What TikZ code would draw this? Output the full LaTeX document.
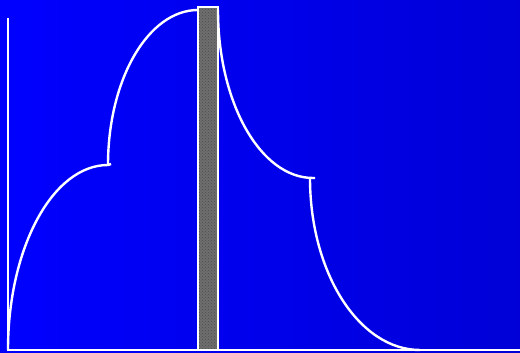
\documentclass[tikz,border=0pt]{standalone}
\usetikzlibrary{patterns}
\definecolor{bgleft}{RGB}{0,0,255}
\definecolor{bgright}{RGB}{0,0,215}
\definecolor{bargray}{RGB}{110,110,110}
\begin{document}
\begin{tikzpicture}[
  x=1pt, y=1pt,
  axis/.style={draw=white, line width=2.4pt},
  curve/.style={draw=white, line width=2.4pt},
  barrier/.style={draw=white, line width=2pt, fill=bargray}
]
\useasboundingbox (0,0) rectangle (520,353);
\shade[left color=bgleft, right color=bgright] (0,0) rectangle (520,353);
% axes
\coordinate (O) at (8,3);
\coordinate (top) at (8,335);
\coordinate (right) at (520,3);
\draw[axis] (top) -- (O) -- (right);
% barrier
\draw[barrier] (198,3) rectangle (218,346);
\fill[pattern=crosshatch dots, pattern color=black!70] (199,4) rectangle (217,345);
\draw[white, line width=2pt] (198,3) rectangle (218,346);
% curves
\coordinate (k1) at (108,188);
\coordinate (k2) at (218,343);
\coordinate (k3) at (310,175);
\draw[curve] (O) arc[start angle=180, end angle=90, x radius=100, y radius=185]
  -- ++(3,1);
\draw[curve] (k1) arc[start angle=180, end angle=90, x radius=90, y radius=155];
\draw[curve] (k2) arc[start angle=180, end angle=270, x radius=95, y radius=168]
  -- ++(2,0);
\draw[curve] (k3) arc[start angle=180, end angle=270, x radius=110, y radius=172];
\end{tikzpicture}
\end{document}
